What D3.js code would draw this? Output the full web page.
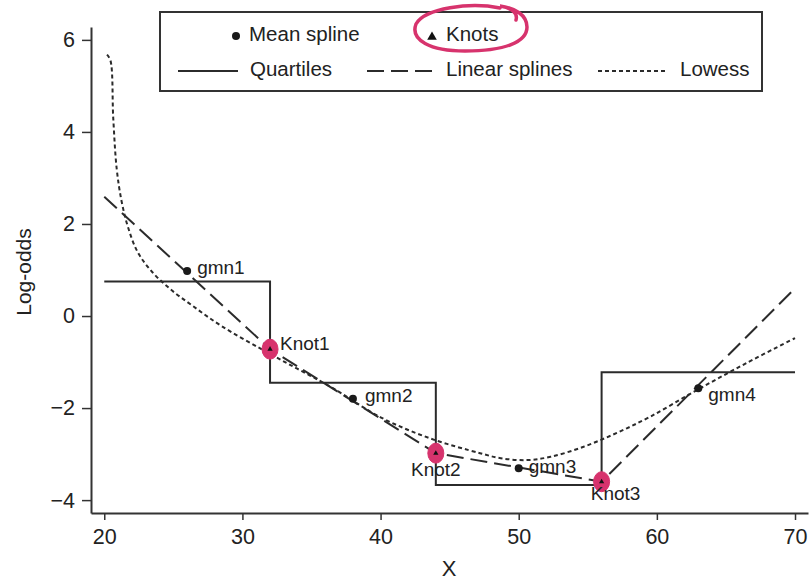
<!DOCTYPE html>
<html>
<head>
<meta charset="utf-8">
<script src="https://cdn.jsdelivr.net/npm/d3@7"></script>
<style>
  body { margin: 0; background: #fff; }
  svg text { font-family: "Liberation Sans", Arial, Helvetica, sans-serif; fill: #222; }
  .quart { fill: none; stroke: #2b2b2b; stroke-width: 2; }
  .spline { fill: none; stroke: #2b2b2b; stroke-width: 2; stroke-dasharray: 17 7; }
  .lowess { fill: none; stroke: #2b2b2b; stroke-width: 2; stroke-dasharray: 4 3; }
  .mark { stroke: #d7336d; fill: #d7336d; }
</style>
</head>
<body>
<svg id="chart" width="810" height="582"></svg>
<script>
  // data
  const xTicks = [20, 30, 40, 50, 60, 70]
  const yTicks = [-4, -2, 0, 2, 4, 6]

  const quartileBreaks = [20, 32, 44, 56, 70]
  const quartileY = [0.75, -1.45, -3.67, -1.22]

  const splineX = [20, 32, 44, 56, 70]
  const splineY = [2.59, -0.72, -2.98, -3.6, 0.6]

  const gmnNames = ["gmn1", "gmn2", "gmn3", "gmn4"]
  const gmnX = [26, 38, 50, 63]
  const gmnY = [0.98, -1.8, -3.31, -1.57]

  const knotNames = ["Knot1", "Knot2", "Knot3"]
  const knotX = [32, 44, 56]
  const knotY = [-0.72, -2.98, -3.6]

  const lowessX = [20.2, 20.45, 20.65, 20.9, 21.25, 21.7, 22.4, 23.4, 24.8, 26.4, 28.5, 31.5, 34, 36.4, 40, 43.6, 47.2, 48.7, 50.6, 52.3, 54.7, 57.1, 59.5, 62.9, 66.5, 70]
  const lowessY = [5.68, 5.55, 4.3, 3.2, 2.5, 1.95, 1.4, 0.98, 0.58, 0.22, -0.22, -0.74, -1.15, -1.54, -2.2, -2.66, -2.98, -3.09, -3.13, -3.06, -2.84, -2.54, -2.19, -1.61, -1.02, -0.48]

  const legendTop = ["Mean spline", "Knots"]
  const legendBottom = ["Quartiles", "Linear splines", "Lowess"]

  const svg = d3.select("#chart")
  const x = d3.scaleLinear().domain([19.04, 70.94]).range([91, 808])
  const y = d3.scaleLinear().domain([-4.28, 6.28]).range([513, 27])

  // axes
  const xAxis = svg.append("g").attr("transform", "translate(0,513)")
    .call(d3.axisBottom(x).tickValues(xTicks).tickSize(7).tickSizeOuter(0).tickPadding(9))
  const yAxis = svg.append("g").attr("transform", "translate(91,0)")
    .call(d3.axisLeft(y).tickValues(yTicks).tickSize(9).tickSizeOuter(0).tickPadding(7))
  ;[xAxis, yAxis].forEach(a => {
    a.attr("font-size", 21.5).attr("font-family", null)
    a.select(".domain").attr("stroke", "#333").attr("stroke-width", 2)
    a.selectAll(".tick line").attr("stroke", "#333").attr("stroke-width", 1.5)
    a.selectAll(".tick text").attr("fill", "#222")
  })

  svg.append("text").attr("x", 449).attr("y", 576).attr("text-anchor", "middle")
    .attr("font-size", 22).text("X")
  svg.append("text").attr("transform", "translate(31,272) rotate(-90)").attr("text-anchor", "middle")
    .attr("font-size", 21).text("Log-odds")

  // quartile step function
  const stepPts = []
  quartileY.forEach((q, i) => { stepPts.push([quartileBreaks[i], q], [quartileBreaks[i + 1], q]) })
  const line = d3.line().x(d => x(d[0])).y(d => y(d[1]))
  svg.append("path").datum(stepPts).attr("class", "quart").attr("d", line)

  // linear splines
  svg.append("path").datum(splineX.map((v, i) => [v, splineY[i]])).attr("class", "spline").attr("d", line)

  // lowess
  const smooth = d3.line().x(d => x(d[0])).y(d => y(d[1])).curve(d3.curveCatmullRom.alpha(0.5))
  svg.append("path").datum(lowessX.map((v, i) => [v, lowessY[i]])).attr("class", "lowess").attr("d", smooth)

  // mean spline points
  svg.selectAll(".gmn").data(gmnX).join("circle")
    .attr("cx", d => x(d)).attr("cy", (d, i) => y(gmnY[i])).attr("r", 4).attr("fill", "#1a1a1a")
  const gmnOff = [[10, -2], [12, -2], [10, 0], [10, 8]]
  svg.selectAll(".gmnlab").data(gmnNames).join("text")
    .attr("x", (d, i) => x(gmnX[i]) + gmnOff[i][0]).attr("y", (d, i) => y(gmnY[i]) + gmnOff[i][1])
    .attr("dominant-baseline", "middle").attr("font-size", 19).text(d => d)

  // knots, with the red highlight marks
  svg.selectAll(".blob").data(knotX).join("ellipse").attr("class", "mark")
    .attr("cx", d => x(d)).attr("cy", (d, i) => y(knotY[i])).attr("rx", 8).attr("ry", 10)
  const tri = d3.symbol().type(d3.symbolTriangle).size(12)
  svg.selectAll(".knot").data(knotX).join("path")
    .attr("transform", (d, i) => `translate(${x(d)},${y(knotY[i])})`).attr("d", tri).attr("fill", "#111")
  const knotOff = [[10, -4, "start"], [0, 18, "middle"], [14, 13, "middle"]]
  svg.selectAll(".knotlab").data(knotNames).join("text")
    .attr("x", (d, i) => x(knotX[i]) + knotOff[i][0]).attr("y", (d, i) => y(knotY[i]) + knotOff[i][1])
    .attr("text-anchor", (d, i) => knotOff[i][2])
    .attr("dominant-baseline", "middle").attr("font-size", 19).text(d => d)

  // legend
  const lg = svg.append("g")
  lg.append("rect").attr("x", 160).attr("y", 12).attr("width", 602).attr("height", 79)
    .attr("fill", "#fff").attr("stroke", "#333").attr("stroke-width", 2)
  lg.append("circle").attr("cx", 236).attr("cy", 36).attr("r", 4).attr("fill", "#1a1a1a")
  lg.append("path").attr("transform", "translate(432,37)").attr("d", d3.symbol().type(d3.symbolTriangle).size(40)).attr("fill", "#111")
  lg.selectAll(".lt").data(legendTop).join("text")
    .attr("x", (d, i) => [249, 446][i]).attr("y", 36).attr("dominant-baseline", "middle")
    .attr("font-size", 20.5).text(d => d)
  const lcls = ["quart", "spline", "lowess"]
  const lx = [[178, 238], [367, 434], [598, 668]]
  lg.selectAll(".ll").data(lcls).join("line").attr("class", d => d)
    .attr("x1", (d, i) => lx[i][0]).attr("x2", (d, i) => lx[i][1]).attr("y1", 71).attr("y2", 71)
  lg.selectAll(".lb").data(legendBottom).join("text")
    .attr("x", (d, i) => [250, 446, 680][i]).attr("y", 71).attr("dominant-baseline", "middle")
    .attr("font-size", 20.5).text(d => d)

  // hand-drawn red ring around "Knots"
  svg.append("path").attr("fill", "none").attr("stroke", "#d7336d").attr("stroke-width", 3.5)
    .attr("stroke-linecap", "round")
    .attr("d", "M500,8 C470,2 425,8 416,24 C410,40 430,51 465,51 C505,51 527,42 527,27 C527,15 515,8 500,6 C512,8 518,13 516,20")
</script>
</body>
</html>
